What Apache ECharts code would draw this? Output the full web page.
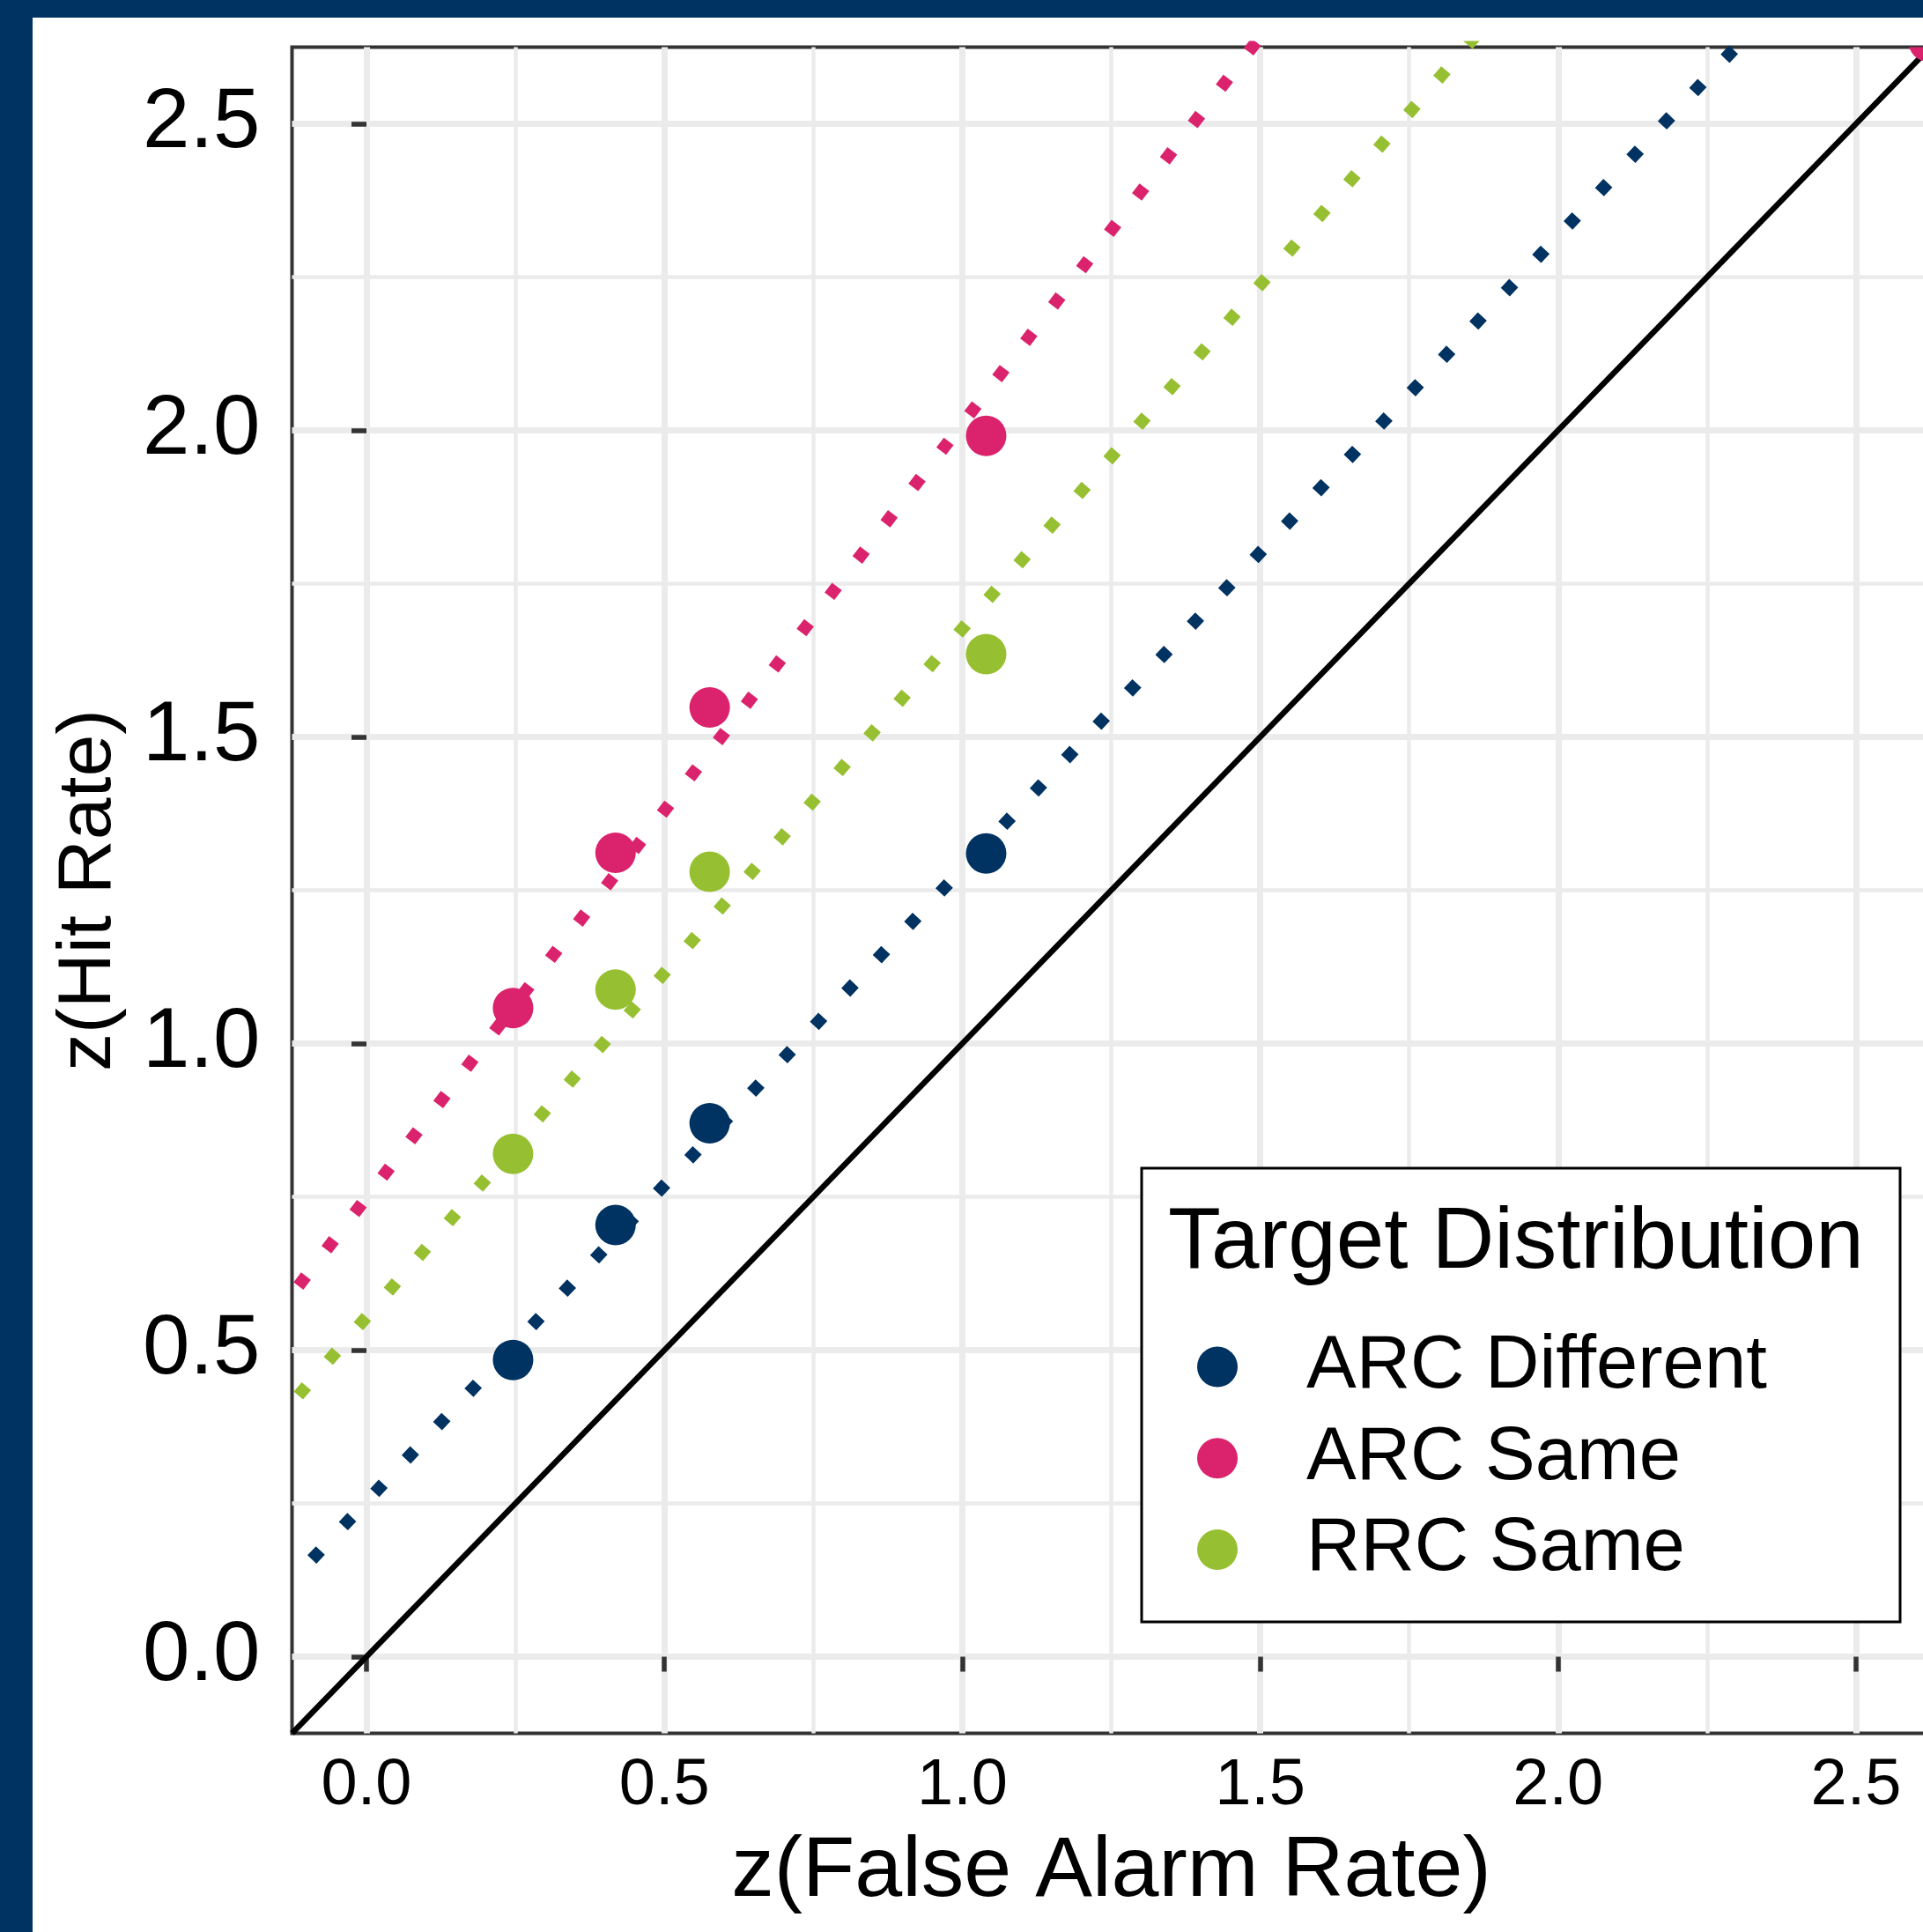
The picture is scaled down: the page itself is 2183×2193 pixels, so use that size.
<!DOCTYPE html>
<html>
<head>
<meta charset="utf-8">
<script src="https://cdn.jsdelivr.net/npm/echarts@6/dist/echarts.min.js"></script>
<style>
  html, body { margin: 0; padding: 0; width: 2183px; height: 2193px; overflow: hidden; background: #003262; }
  #chart { position: absolute; left: 37px; top: 20px; width: 2200px; height: 2173px; background: #fff; }
</style>
</head>
<body>
<div id="chart"></div>
<script>
// z-scores (shared false alarm rates)
const faRate = [0.246, 0.418, 0.576, 1.040];
const arcDifferent = [0.484, 0.704, 0.870, 1.310];
const arcSame = [1.058, 1.311, 1.548, 1.991];
const rrcSame = [0.820, 1.088, 1.280, 1.635];
// ARC Same point sitting on the panel corner (mostly clipped)
const arcSameEdge = [[2.622, 2.634]];

// fitted lines, endpoints
const arcDifferentFit = [[-0.125, 0.124], [2.625, 2.962]];
const arcSameFit = [[-0.125, 0.591], [2.0, 3.273]];
const rrcSameFit = [[-0.125, 0.414], [2.2, 3.023]];
const chanceLine = [[-0.125, -0.125], [2.625, 2.625]];

const majorTicks = [0, 0.5, 1.0, 1.5, 2.0, 2.5];
const minorTicks = [0.25, 0.75, 1.25, 1.75, 2.25];

const colors = { 'ARC Different': '#003262', 'ARC Same': '#DB236D', 'RRC Same': '#96C031' };
const font = 'Liberation Sans';

function zip(xs, ys) {
    return xs.map((x, i) => [x, ys[i]]);
}

function majorAxis(pos, labelSize, labelMargin) {
    return {
        type: 'value', position: pos, min: -0.125, max: 2.625,
        axisLine: { show: false },
        axisTick: { show: true, customValues: majorTicks, length: 17, lineStyle: { color: '#333', width: 5.5 } },
        axisLabel: {
            customValues: majorTicks, margin: labelMargin, color: '#000',
            fontFamily: font, fontSize: labelSize, formatter: v => v.toFixed(1)
        },
        splitLine: { show: true, lineStyle: { color: '#EBEBEB', width: 7 } }
    };
}

function minorAxis(pos) {
    return {
        type: 'value', position: pos, min: -0.125, max: 2.625,
        axisLine: { show: false },
        axisTick: { show: false, customValues: minorTicks },
        axisLabel: { show: false },
        splitLine: { show: true, lineStyle: { color: '#EBEBEB', width: 4.5 } }
    };
}

function fitLine(name, data, offset) {
    return {
        name: name + ' fit', type: 'line', data: data, symbol: 'none', clip: true, silent: true, z: 2,
        lineStyle: { color: colors[name], width: 14, type: [14, 38], dashOffset: offset, cap: 'butt' }
    };
}

function points(name, ys) {
    return {
        name: name, type: 'scatter', data: zip(faRate, ys), symbol: 'circle', symbolSize: 46,
        itemStyle: { color: colors[name], opacity: 1 }, z: 3
    };
}

const chart = echarts.init(document.getElementById('chart'), null, { renderer: 'canvas' });

chart.setOption({
    animation: false,
    backgroundColor: '#fff',
    grid: {
        left: 294.5, top: 33.5, width: 1860, height: 1914,
        show: true, borderColor: '#333', borderWidth: 4, backgroundColor: 'transparent'
    },
    xAxis: [
        Object.assign(majorAxis('bottom', 74, 23), {
            name: 'z(False Alarm Rate)', nameLocation: 'middle', nameGap: 109,
            nameTextStyle: { fontFamily: font, fontSize: 97, color: '#000' }
        }),
        minorAxis('top')
    ],
    yAxis: [
        Object.assign(majorAxis('left', 96, 36), {
            name: 'z(Hit Rate)', nameLocation: 'middle', nameGap: 187,
            nameTextStyle: { fontFamily: font, fontSize: 86, color: '#000' }
        }),
        minorAxis('right')
    ],
    legend: {
        data: ['ARC Different', 'ARC Same', 'RRC Same'],
        orient: 'vertical', left: 1322, top: 1489, padding: 0,
        itemWidth: 192, itemHeight: 46, itemGap: 18.7, icon: 'circle',
        selectedMode: false, z: 6,
        textStyle: { fontFamily: font, fontSize: 85, color: '#000' }
    },
    graphic: [
        {
            type: 'rect', z: 5,
            shape: { x: 1259, y: 1306, width: 861, height: 515 },
            style: { fill: '#fff', stroke: '#000', lineWidth: 3 }
        },
        {
            type: 'text', z: 6, x: 1289, y: 1392,
            style: {
                text: 'Target Distribution', fill: '#000', verticalAlign: 'middle',
                font: '98px "Liberation Sans"'
            }
        }
    ],
    series: [
        {
            name: 'chance', type: 'line', data: chanceLine, symbol: 'none', clip: true, silent: true, z: 2,
            lineStyle: { color: '#000', width: 6.5 }
        },
        fitLine('ARC Different', arcDifferentFit, 19),
        fitLine('ARC Same', arcSameFit, 40),
        fitLine('RRC Same', rrcSameFit, 41),
        points('ARC Different', arcDifferent),
        points('ARC Same', arcSame),
        points('RRC Same', rrcSame),
        {
            name: 'ARC Same edge', type: 'custom', data: arcSameEdge, clip: true, silent: true, z: 3,
            renderItem: function (params, api) {
                const p = api.coord([api.value(0), api.value(1)]);
                return { type: 'circle', shape: { cx: p[0], cy: p[1], r: 23 }, style: { fill: colors['ARC Same'] } };
            }
        }
    ]
});
</script>
</body>
</html>
